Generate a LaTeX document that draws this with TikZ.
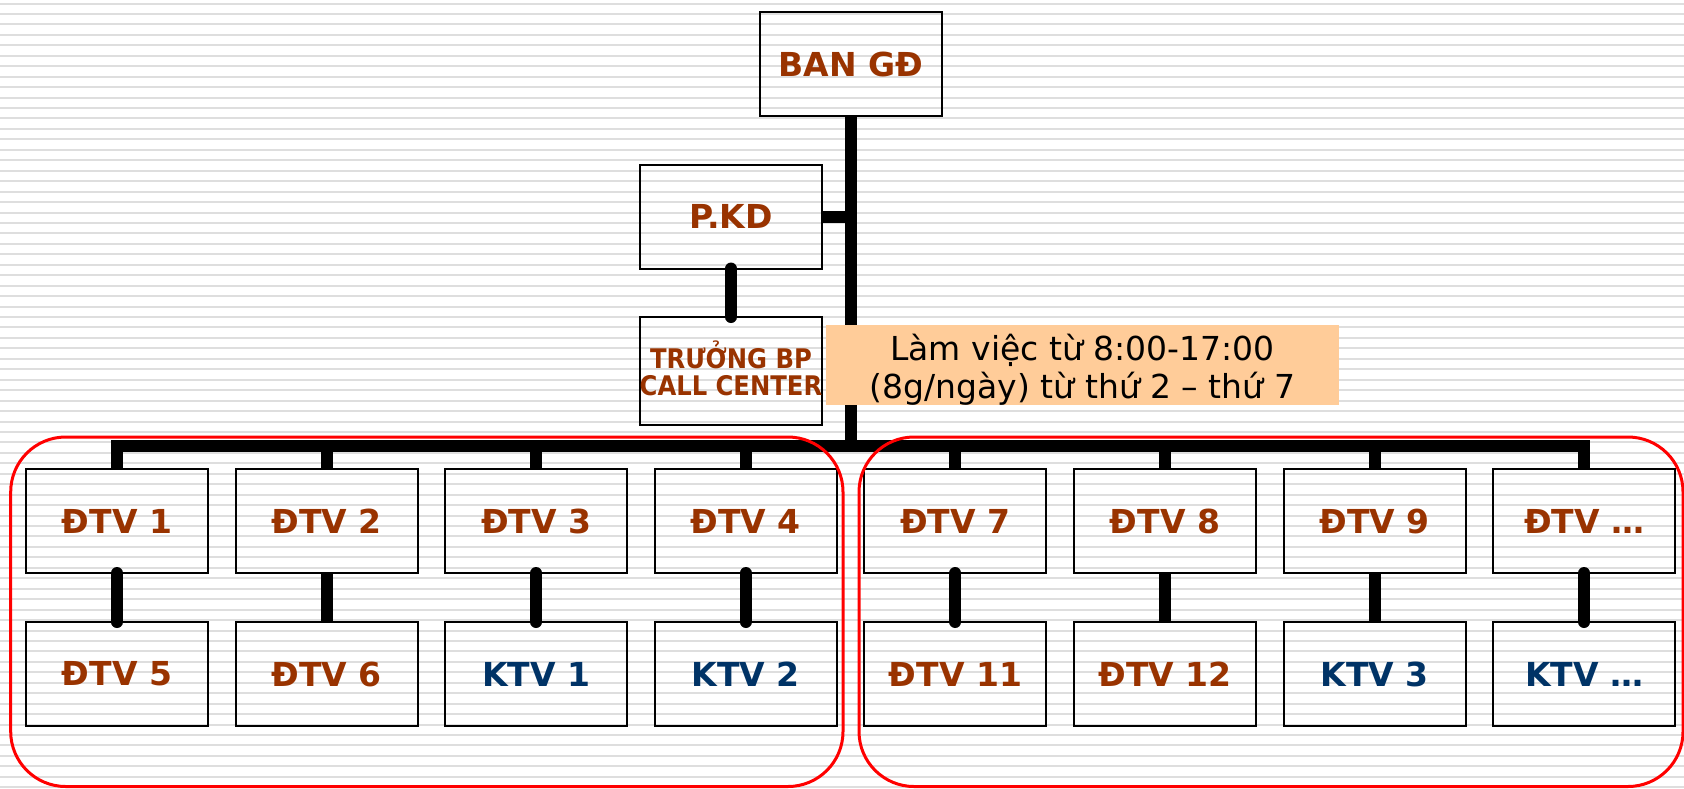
\documentclass[tikz,border=0pt]{standalone}
\usepackage{fontspec}
\setmainfont{DejaVu Sans}
\newfontfamily\dvcond{DejaVu Sans Condensed}
\definecolor{brn}{HTML}{993300}
\definecolor{nvy}{HTML}{003366}
\definecolor{peach}{HTML}{FFCC99}
\definecolor{stripec}{HTML}{DEDEDE}
\begin{document}
\begin{tikzpicture}[x=0.5pt,y=-0.5pt,
  box/.style={draw=black,line width=1pt,inner sep=0pt,outer sep=0pt,minimum width=91pt,minimum height=52pt,font=\bfseries\fontsize{16.5}{19}\selectfont,text=brn},
  ktv/.style={box,text=nvy},
  conn/.style={line width=6pt,black},
  connr/.style={conn,line cap=round},
  stripe/.style={line width=1pt,stripec},
  grp/.style={draw=red,line width=1.5pt,rounded corners=27.5pt},
  note/.style={fill=peach,inner sep=0pt,outer sep=0pt,minimum width=256.5pt,minimum height=40pt},
  notetext/.style={inner sep=0pt,align=center,font=\fontsize{16.5}{19}\selectfont},
  tbptext/.style={inner sep=0pt,align=center,text=brn,font=\dvcond\bfseries\fontsize{13.5}{13.5}\selectfont}]
\useasboundingbox (0,0) rectangle (1684,788);
\fill[white] (0,0) rectangle (1684,788);
% background stripes
\foreach \i in {0,...,75} {\draw[stripe] (0,{3.5+10.45*\i}) -- (1684,{3.5+10.45*\i});}
% nodes
\node[box] (ban) at (851,64) {BAN GĐ};
\node[box] (pkd) at (731,216.5) {P.KD};
\node[box,minimum height=54pt] (tbp) at (731,371) {};
\node[tbptext] (tbpt) at ([yshift=1.5pt]tbp.center) {TRƯỞNG BP\\CALL CENTER};
\coordinate (busy) at (0,446);
\node[box] (d1) at (117,521) {ĐTV 1};
\node[box] (d2) at (326.6,521) {ĐTV 2};
\node[box] (d3) at (536.2,521) {ĐTV 3};
\node[box] (d4) at (745.8,521) {ĐTV 4};
\node[box] (d7) at (955.4,521) {ĐTV 7};
\node[box] (d8) at (1165,521) {ĐTV 8};
\node[box] (d9) at (1374.6,521) {ĐTV 9};
\node[box] (dx) at (1584.2,521) {ĐTV …};
\node[box] (d5) at (117,674) {ĐTV 5};
\node[box] (d6) at (326.6,674) {ĐTV 6};
\node[ktv] (k1) at (536.2,674) {KTV 1};
\node[ktv] (k2) at (745.8,674) {KTV 2};
\node[box] (d11) at (955.4,674) {ĐTV 11};
\node[box] (d12) at (1165,674) {ĐTV 12};
\node[ktv] (k3) at (1374.6,674) {KTV 3};
\node[ktv] (kx) at (1584.2,674) {KTV …};
% connectors
\draw[conn] (ban.south) -- (ban.south |- busy);
\draw[conn] (pkd.east) -- (pkd.east -| ban.south);
\draw[connr] (pkd.south) -- (tbp.north);
\draw[conn] (d1.north) -- (d1.north |- busy) -- (dx.north |- busy) -- (dx.north);
\foreach \n in {d2,d3,d4,d7,d8,d9} {\draw[conn] (\n.north |- busy) -- (\n.north);}
\draw[connr] (d1.south) -- (d5.north);
\draw[conn] (d2.south) -- (d6.north);
\draw[connr] (d3.south) -- (k1.north);
\draw[connr] (d4.south) -- (k2.north);
\draw[connr] (d7.south) -- (d11.north);
\draw[conn] (d8.south) -- (d12.north);
\draw[conn] (d9.south) -- (k3.north);
\draw[connr] (dx.south) -- (kx.north);
% note
\node[note] (nt) at (1082.5,365) {};
\node[notetext] (ntt) at ([yshift=-2.2pt]nt.center) {Làm việc từ 8:00-17:00\\(8g/ngày) từ thứ 2 – thứ 7};
% groups
\draw[grp] (10.7,437) rectangle (843,786.5);
\draw[grp] (859,437) rectangle (1683,786.5);
\end{tikzpicture}
\end{document}
